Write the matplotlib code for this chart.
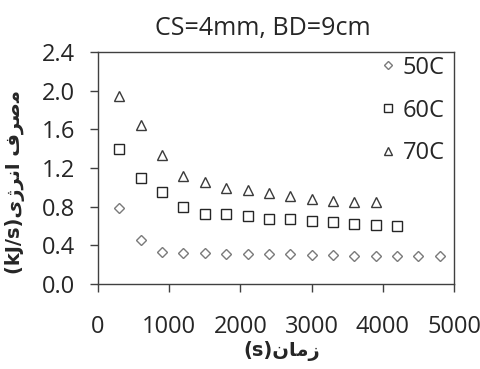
import matplotlib
matplotlib.use("Agg")
import matplotlib.pyplot as plt

time_50 = [300, 600, 900, 1200, 1500, 1800, 2100, 2400, 2700, 3000, 3300, 3600, 3900, 4200, 4500, 4800]
e_50 = [0.79, 0.45, 0.335, 0.32, 0.32, 0.31, 0.31, 0.31, 0.31, 0.295, 0.295, 0.285, 0.285, 0.285, 0.285, 0.285]
time_60 = [300, 600, 900, 1200, 1500, 1800, 2100, 2400, 2700, 3000, 3300, 3600, 3900, 4200]
e_60 = [1.40, 1.10, 0.95, 0.80, 0.725, 0.72, 0.70, 0.675, 0.675, 0.65, 0.64, 0.625, 0.61, 0.60]
time_70 = [300, 600, 900, 1200, 1500, 1800, 2100, 2400, 2700, 3000, 3300, 3600, 3900]
e_70 = [1.95, 1.65, 1.335, 1.12, 1.055, 0.995, 0.97, 0.945, 0.91, 0.88, 0.86, 0.85, 0.85]
series_labels = ["50C", "60C", "70C"]
title_text = "CS=4mm, BD=9cm"
# Arabic labels (visual order, presentation forms): "زمان(s)" and "مصرف انرژی(kJ/s)"
xlabel_text = "(s)" + "\uFEE5\uFE8E\uFEE3\uFEAF"
ylabel_text = "(kJ/s)" + "\uFBFC\uFB8A\uFEAE\uFEE7\uFE8D \uFED1\uFEAE\uFEBB\uFEE3"

plt.rcParams['font.family'] = ['Open Sans', 'DejaVu Sans']

fig = plt.figure(figsize=(4.81, 3.69), dpi=100)
ax = fig.add_axes([0.2037, 0.2304, 0.7402, 0.6286])

ax.plot(time_50, e_50, linestyle='none', marker='D', ms=5.0, mfc='none', mec='#7a7a7a', mew=1.0, label=series_labels[0])
ax.plot(time_60, e_60, linestyle='none', marker='s', ms=6.8, mfc='none', mec='#262626', mew=1.0, label=series_labels[1])
ax.plot(time_70, e_70, linestyle='none', marker='^', ms=7.0, mfc='none', mec='#3a3a3a', mew=1.0, label=series_labels[2])

ax.set_xlim(0, 5000)
ax.set_ylim(0, 2.4)
ax.set_xticks([0, 1000, 2000, 3000, 4000, 5000])
ax.set_yticks([0.0, 0.4, 0.8, 1.2, 1.6, 2.0, 2.4])
ax.set_yticklabels([f"{v:.1f}" for v in [0.0, 0.4, 0.8, 1.2, 1.6, 2.0, 2.4]])

for s in ax.spines.values():
    s.set_color('#404040')
    s.set_linewidth(1.0)
ax.tick_params(axis='both', direction='out', length=5.5, width=1.0, color='#404040',
               labelsize=17, labelcolor='#262626')
ax.tick_params(axis='x', pad=17)
ax.tick_params(axis='y', pad=11)

ax.set_title(title_text, fontsize=18, color='#262626', pad=12, x=0.4635)
ax.set_xlabel(xlabel_text, fontsize=14, fontweight='bold', color='#262626',
              family=['DejaVu Sans'])
ax.set_ylabel(ylabel_text, fontsize=14, fontweight='bold', color='#262626',
              family=['DejaVu Sans'])
ax.xaxis.set_label_coords(0.517, -0.245)
ax.yaxis.set_label_coords(-0.205, 0.44)

leg = ax.legend(loc='upper right', bbox_to_anchor=(1.0, 1.025), frameon=False, fontsize=17,
                markerscale=0.75, handlelength=0.7, handletextpad=0.25, labelspacing=0.8,
                borderaxespad=0.0, labelcolor='#262626')

fig.savefig("out.png", dpi=100)
